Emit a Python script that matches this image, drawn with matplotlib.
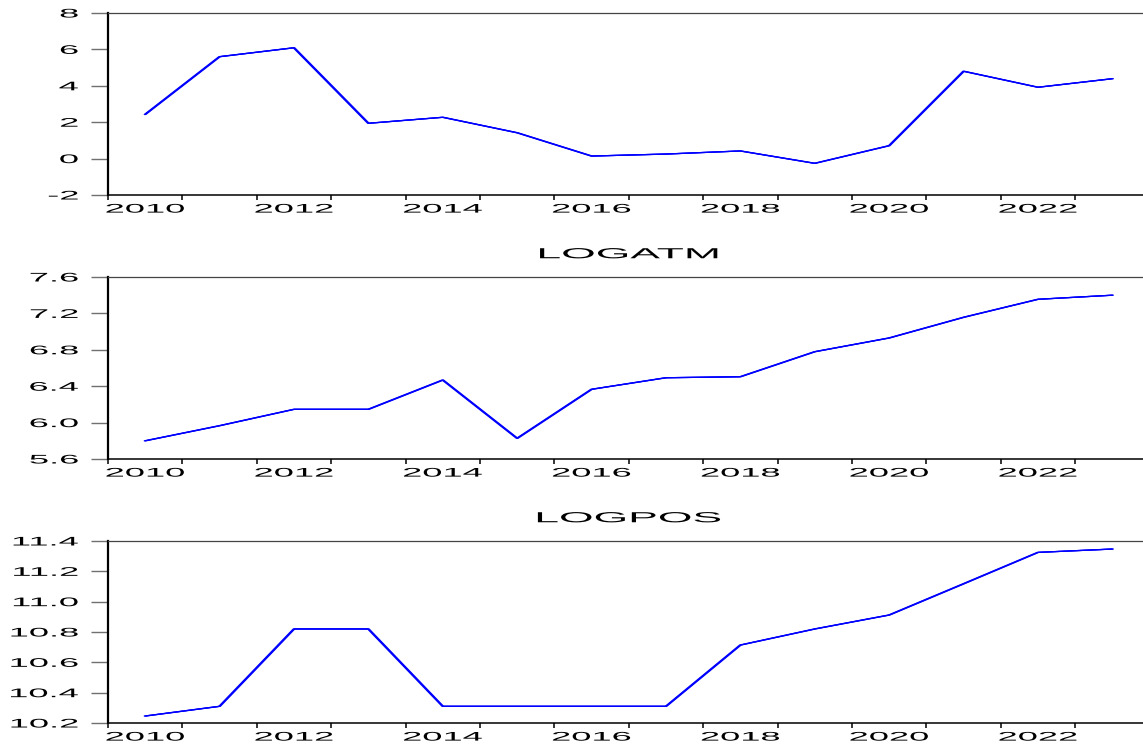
import numpy as np
import matplotlib
matplotlib.use("Agg")
import matplotlib.pyplot as plt
import matplotlib.patheffects as pe
from matplotlib.transforms import Affine2D

plt.rcParams['font.family'] = ['Liberation Sans', 'DejaVu Sans']

years = np.arange(2010, 2024)
series1 = [2.43, 5.6, 6.09, 1.94, 2.27, 1.42, 0.14, 0.25, 0.42, -0.26, 0.71, 4.8, 3.92, 4.39]
logatm = [5.80, 5.966, 6.146, 6.146, 6.468, 5.827, 6.366, 6.493, 6.504, 6.779, 6.93, 7.157, 7.355, 7.40]
logpos = [10.246, 10.31, 10.82, 10.82, 10.31, 10.31, 10.31, 10.31, 10.714, 10.82, 10.912, 11.118, 11.325, 11.347]

panels = [
    ("", series1, np.arange(-2, 8.1, 2), "{:.0f}"),
    ("LOGATM", logatm, np.arange(5.6, 7.61, 0.4), "{:.1f}"),
    ("LOGPOS", logpos, np.arange(10.2, 11.41, 0.2), "{:.1f}"),
]
year_labels = [str(y) for y in range(2010, 2024, 2)]

SX = 2.9  # horizontal stretch of the lettering


class Stretch(pe.AbstractPathEffect):
    """Widen glyphs horizontally around the left/centre/right of the ink box."""

    def __init__(self, sx, anchor="center"):
        super().__init__()
        self.sx = sx
        self.anchor = anchor

    def draw_path(self, renderer, gc, tpath, affine, rgbFace=None):
        ext = tpath.get_extents(affine)
        if self.anchor == "right":
            cx = ext.x1
        elif self.anchor == "left":
            cx = ext.x0
        else:
            cx = 0.5 * (ext.x0 + ext.x1)
        aff = affine + Affine2D().translate(-cx, 0).scale(self.sx, 1).translate(cx, 0)
        renderer.draw_path(gc, tpath, aff, rgbFace)


fig = plt.figure(figsize=(11.43, 7.44), dpi=100)
W, H = 1143.0, 744.0
left_px, right_px = 108.0, 1149.6
tops = [13, 277, 541]
ph = 182.0

for (title, vals, yt, fmt), top in zip(panels, tops):
    ax = fig.add_axes([left_px / W, 1 - (top + ph) / H, (right_px - left_px) / W, ph / H])
    ax.plot(years + 0.5, vals, color=(0, 0, 1), lw=0.9,
            path_effects=[pe.Stroke(offset=(-0.55, 0)), pe.Stroke(offset=(0.55, 0)), pe.Normal()])
    ax.set_xlim(2010, 2024)
    ax.set_ylim(yt[0], yt[-1])

    ax.set_yticks(yt)
    ax.set_yticklabels([fmt.format(v) for v in yt])
    ax.tick_params(axis='y', direction='out', length=12.5, width=1.0, color='#707070',
                   pad=9, labelsize=9)

    ax.set_xticks(np.arange(2010, 2025))
    ax.set_xticklabels([])
    ax.set_xticks(np.arange(2010, 2023, 2) + 0.5, minor=True)
    ax.set_xticklabels(year_labels, minor=True)
    ax.tick_params(axis='x', which='major', direction='out', length=3.5, width=1.1, color='black')
    ax.tick_params(axis='x', which='minor', length=0, pad=6.2, labelsize=9)

    for lab in ax.get_yticklabels():
        lab.set_path_effects([Stretch(SX, "right")])
    for lab in ax.get_xticklabels(minor=True):
        lab.set_path_effects([Stretch(SX, "center")])

    ax.spines['right'].set_visible(False)
    ax.spines['left'].set_linewidth(1.6)
    ax.spines['left'].set_color('black')
    ax.spines['bottom'].set_linewidth(1.1)
    ax.spines['bottom'].set_color('black')
    ax.spines['top'].set_linewidth(0.9)
    ax.spines['top'].set_color('#444444')

    if title:
        t = ax.set_title(title, fontsize=10.5, pad=13.5)
        t.set_path_effects([Stretch(3.05, "center")])

fig.savefig("out.png", dpi=100)
